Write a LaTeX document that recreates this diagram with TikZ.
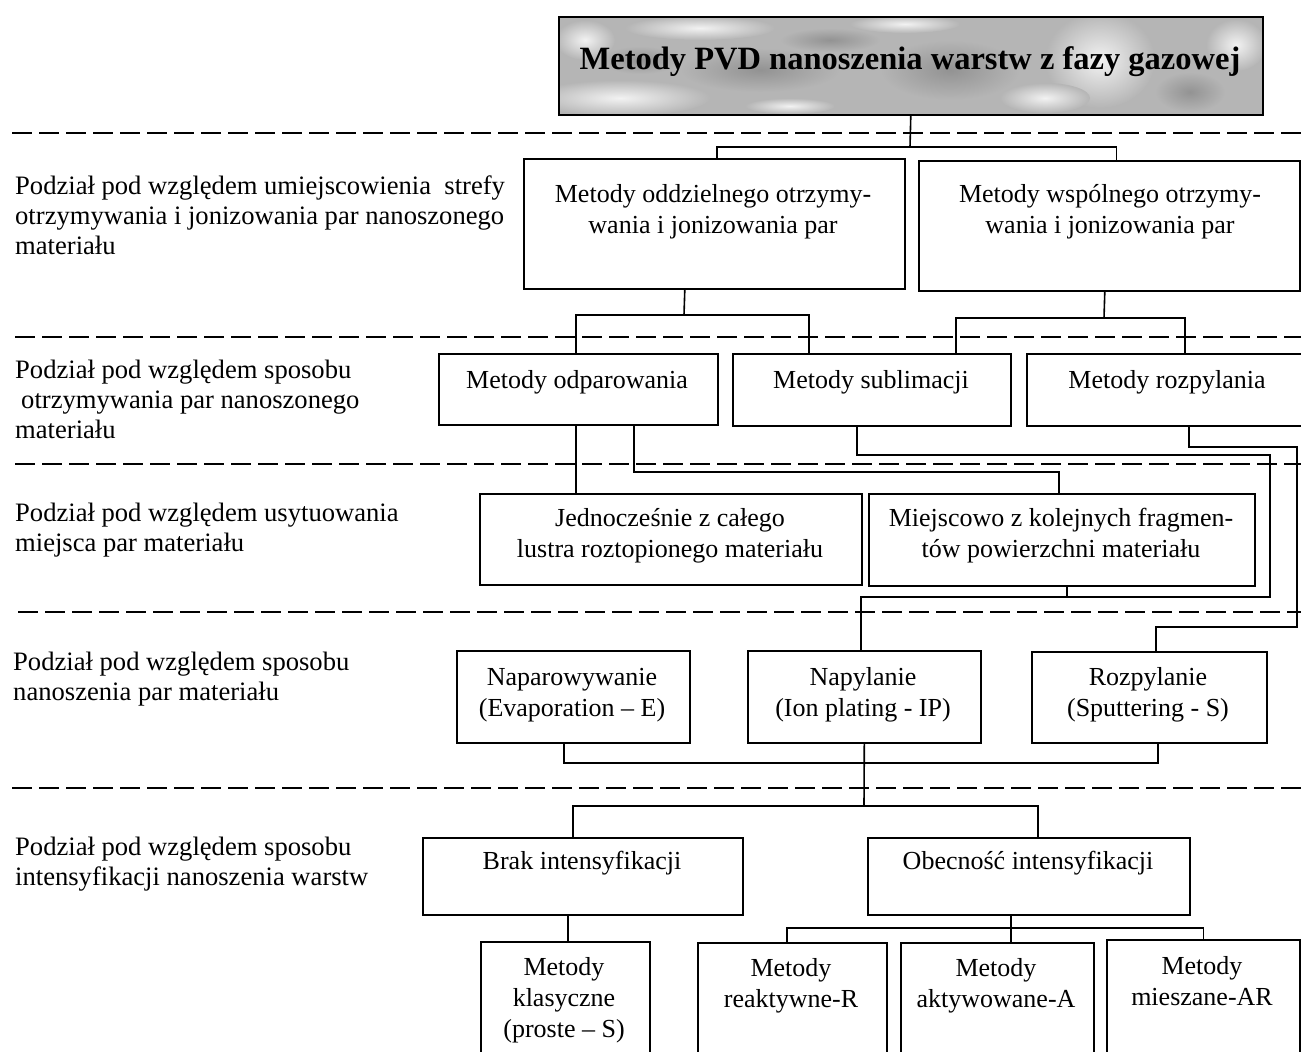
\documentclass[tikz,border=0pt]{standalone}
\usepackage{fontspec}
\setmainfont{Liberation Serif}
\begin{document}
\begin{tikzpicture}[x=1pt,y=-1pt,
  box/.style={draw, line width=1.6pt, inner sep=0pt, anchor=north west},
  txt/.style={font=\fontsize{26}{31}\selectfont, align=center, inner sep=0pt},
  lbl/.style={font=\fontsize{26.6}{30}\selectfont, align=left, inner sep=0pt, anchor=west},
  con/.style={line width=1.6pt},
  sepline/.style={line width=2pt, dash pattern=on 20pt off 7pt}]
\useasboundingbox (0,0) rectangle (1301,1052);
\clip (0,0) rectangle (1301,1052);
\fill[white] (0,0) rectangle (1301,1052);

% title texture
\begin{scope}
  \clip (558,16) rectangle (1262,114);
  \fill[gray!58] (558,16) rectangle (1262,114);
  \foreach \px/\py/\ra/\rb in {760/70/80/22, 950/70/70/30, 1190/92/35/20, 830/40/50/12, 640/60/40/14}
    \shade[inner color=gray!85, outer color=gray!58] (\px,\py) ellipse (\ra pt and \rb pt);
  \foreach \px/\py/\ra/\rb in {620/98/90/18, 700/28/75/12, 1100/60/55/48, 1236/45/30/26, 1045/98/45/15, 905/24/55/9, 790/106/45/8, 585/40/30/20}
    \shade[inner color=gray!10, outer color=gray!58] (\px,\py) ellipse (\ra pt and \rb pt);
\end{scope}

% boxes
\node[box, minimum width=704pt, minimum height=98pt] (ttl) at (558,16) {};
\node[font=\fontsize{32.5}{36}\selectfont\bfseries, inner sep=0pt] (ttlt) at (910,62) {Metody PVD nanoszenia warstw z fazy gazowej};

\node[box, minimum width=381pt, minimum height=130pt] (od) at (523,158) {};
\node[box, minimum width=381pt, minimum height=130pt] (ws) at (918,160) {};
\node[box, minimum width=279pt, minimum height=71pt] (odp) at (438,353) {};
\node[box, minimum width=278pt, minimum height=72pt] (sub) at (732,353) {};
\node[box, minimum width=290pt, minimum height=72pt] (roz) at (1026,353) {};
\node[box, minimum width=382pt, minimum height=91pt] (jed) at (479,493) {};
\node[box, minimum width=386pt, minimum height=92pt] (mie) at (868,493) {};
\node[box, minimum width=233pt, minimum height=92pt] (nap) at (456,650) {};
\node[box, minimum width=233pt, minimum height=92pt] (npl) at (747,650) {};
\node[box, minimum width=235pt, minimum height=91pt] (rzp) at (1031,651) {};
\node[box, minimum width=320pt, minimum height=77pt] (brak) at (422,837) {};
\node[box, minimum width=322pt, minimum height=77pt] (obe) at (867,837) {};
\node[box, minimum width=169pt, minimum height=140pt] (kla) at (480,941) {};
\node[box, minimum width=189pt, minimum height=140pt] (rea) at (697,942) {};
\node[box, minimum width=193pt, minimum height=140pt] (akt) at (900,942) {};
\node[box, minimum width=193pt, minimum height=140pt] (mis) at (1106,939) {};

% box texts
\node[txt] (odt) at (713,212) {Metody oddzielnego otrzymy-\\wania i jonizowania par};
\node[txt] (wst) at (1110,212) {Metody wspólnego otrzymy-\\wania i jonizowania par};
\node[txt] (odpt) at (577,382) {Metody odparowania};
\node[txt] (subt) at (871,382) {Metody sublimacji};
\node[txt] (rozt) at (1167,382) {Metody rozpylania};
\node[txt] (jedt) at (670,536) {Jednocześnie z całego\\lustra roztopionego materiału};
\node[txt] (miet) at (1061,536) {Miejscowo z kolejnych fragmen-\\tów powierzchni materiału};
\node[txt] (napt) at (572,695) {Naparowywanie\\(Evaporation – E)};
\node[txt] (nplt) at (863,695) {Napylanie\\(Ion plating - IP)};
\node[txt] (rzpt) at (1148,695) {Rozpylanie\\(Sputtering - S)};
\node[txt] (brakt) at (582,863) {Brak intensyfikacji};
\node[txt] (obet) at (1028,863) {Obecność intensyfikacji};
\node[txt] (klat) at (564,1000) {Metody\\klasyczne\\(proste – S)};
\node[txt] (reat) at (791,986) {Metody\\reaktywne-R};
\node[txt] (aktt) at (996,986) {Metody\\aktywowane-A};
\node[txt] (mist) at (1202,981) {Metody\\mieszane-AR};

% left labels
\node[lbl] (l1) at (15,215) {Podział pod względem umiejscowienia\ \ strefy\\otrzymywania i jonizowania par nanoszonego\\materiału};
\node[lbl] (l2) at (15,399) {Podział pod względem sposobu\\\hspace{6pt}otrzymywania par nanoszonego\\materiału};
\node[lbl] (l3) at (15,530) {Podział pod względem usytuowania\\miejsca par materiału};
\node[lbl] (l4) at (13,679) {Podział pod względem sposobu\\nanoszenia par materiału};
\node[lbl] (l5) at (15,864) {Podział pod względem sposobu\\intensyfikacji nanoszenia warstw};

% connectors
\coordinate (j1) at (910,147);
\draw[con] (ttl.south) -- (j1);
\draw[con] ([xshift=2.5pt]od.north) |- (j1) -| ([xshift=7pt]ws.north);

\coordinate (j2) at (684,315);
\draw[con] ([xshift=-29.5pt]od.south) -- (j2);
\draw[con] ([xshift=-2.5pt]odp.north) |- (j2) -| ([xshift=-63pt]sub.north);

\coordinate (j3) at (1104,318);
\draw[con] ([xshift=-4.5pt]ws.south) -- (j3);
\draw[con] ([xshift=84pt]sub.north) |- (j3) -| ([xshift=13pt]roz.north);

\draw[con] ([xshift=-2.5pt]odp.south) -- ([xshift=-2.5pt]odp.south |- jed.north);
\coordinate (j4) at (1059,472);
\draw[con] ([xshift=55.5pt]odp.south) |- (j4) -- (j4 |- mie.north);

\coordinate (s1) at (1270,455);
\coordinate (s2) at (861,597);
\draw[con] ([xshift=-15pt]sub.south) |- (s1) |- (s2) -- (s2 |- npl.north);
\draw[con] ([xshift=5pt]mie.south) -- ([xshift=5pt]mie.south |- s2);

\coordinate (r1) at (1297,447);
\coordinate (r2) at (1156,627);
\draw[con] ([xshift=17pt]roz.south) |- (r1) |- (r2) -- (r2 |- rzp.north);

\coordinate (b1) at (563,763);
\draw[con] ([xshift=-9.5pt]nap.south) |- (b1) -| ([xshift=8.5pt]rzp.south);
\coordinate (j6) at (864,806);
\draw[con] (npl.south) -- (j6);
\draw[con] ([xshift=-10pt]brak.north) |- (j6) -| ([xshift=9pt]obe.north);

\draw[con] ([xshift=-15pt]brak.south) -- ([xshift=-15pt]brak.south |- kla.north);
\coordinate (j7) at (1010,928);
\draw[con] ([xshift=-18pt]obe.south) -- ([xshift=-18pt]obe.south |- akt.north);
\draw[con] ([xshift=-5.5pt]rea.north) |- (j7) -| (mis.north);

% separator lines
\draw[sepline] (12,133) -- (1301,133);
\draw[sepline] (15,337) -- (1301,337);
\draw[sepline] (15,464) -- (1301,464);
\draw[sepline] (18,612) -- (1301,612);
\draw[sepline] (12,788) -- (1301,788);
\end{tikzpicture}
\end{document}
